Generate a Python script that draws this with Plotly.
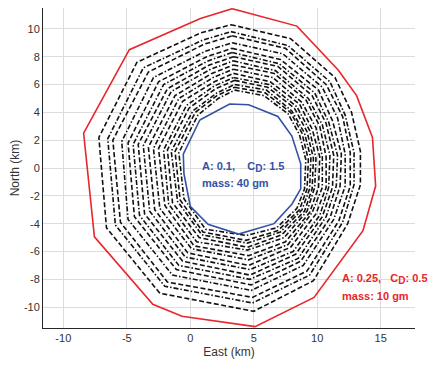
import plotly.graph_objects as go

# ---- data (km) ----
x_ticks = [-10, -5, 0, 5, 10, 15]
y_ticks = [-10, -8, -6, -4, -2, 0, 2, 4, 6, 8, 10]

# outer footprint (A: 0.25, CD: 0.5, mass 10 gm)
red_east = [3.3, 8.4, 11.65, 13.1, 14.35, 14.6, 13.6, 9.75, 5.1, -0.65, -2.95, -7.55, -8.4, -4.8, 0.8]
red_north = [11.45, 10.2, 7.05, 5.2, 2.2, -1.3, -4.5, -9.3, -11.4, -10.65, -9.8, -4.95, 2.5, 8.5, 10.75]

# inner footprint (A: 0.1, CD: 1.5, mass 40 gm)
blue_east = [0.75, 3.1, 4.6, 6.9, 8.0, 8.7, 8.7, 8.0, 6.6, 3.8, 1.4, 0.0, -0.5, -0.55]
blue_north = [3.45, 4.6, 4.55, 3.7, 2.3, 0.3, -1.5, -2.6, -4.0, -4.75, -4.05, -2.75, -0.4, 1.0]

# intermediate footprints
black_east = [
    [3.2, 7.9, 11.4, 12.7, 13.4, 13.4, 12.4, 9.7, 5.0, -2.4, -6.6, -7.2, -4.2, 0.8],
    [3.2, 7.7, 11.0, 12.2, 12.9, 12.9, 12.0, 9.4, 4.9, -2.0, -5.9, -6.5, -3.7, 1.0],
    [3.3, 7.5, 10.7, 12.0, 12.6, 12.6, 11.7, 9.2, 4.9, -1.8, -5.5, -6.1, -3.3, 1.1],
    [3.3, 7.3, 10.4, 11.6, 12.2, 12.2, 11.3, 8.9, 4.8, -1.4, -4.9, -5.4, -2.9, 1.2],
    [3.3, 7.1, 10.1, 11.2, 11.9, 11.8, 11.0, 8.7, 4.8, -1.1, -4.4, -4.9, -2.5, 1.3],
    [3.3, 7.0, 9.8, 10.9, 11.6, 11.5, 10.7, 8.5, 4.7, -0.9, -4.0, -4.5, -2.1, 1.4],
    [3.4, 6.9, 9.6, 10.7, 11.3, 11.2, 10.4, 8.3, 4.7, -0.6, -3.6, -4.1, -1.8, 1.5],
    [3.4, 6.7, 9.3, 10.4, 11.0, 10.9, 10.2, 8.1, 4.7, -0.4, -3.2, -3.7, -1.5, 1.6],
    [3.4, 6.6, 9.1, 10.2, 10.7, 10.7, 9.9, 7.9, 4.6, -0.2, -2.8, -3.3, -1.2, 1.7],
    [3.4, 6.5, 8.8, 9.9, 10.4, 10.4, 9.6, 7.7, 4.6, 0.1, -2.4, -2.9, -0.9, 1.8],
    [3.4, 6.3, 8.6, 9.6, 10.2, 10.1, 9.4, 7.5, 4.6, 0.3, -2.0, -2.5, -0.6, 1.9],
    [3.4, 6.2, 8.4, 9.4, 9.9, 9.8, 9.2, 7.4, 4.5, 0.5, -1.7, -2.1, -0.3, 1.9],
    [3.5, 6.1, 8.2, 9.2, 9.7, 9.6, 9.0, 7.2, 4.5, 0.7, -1.4, -1.8, -0.1, 2.0],
    [3.5, 6.0, 8.0, 9.0, 9.5, 9.4, 8.8, 7.1, 4.5, 0.9, -1.0, -1.5, 0.2, 2.1],
    [3.5, 5.9, 7.9, 8.8, 9.3, 9.2, 8.6, 6.9, 4.4, 1.0, -0.8, -1.2, 0.4, 2.1],
    [3.5, 5.8, 7.7, 8.6, 9.1, 9.0, 8.4, 6.8, 4.4, 1.2, -0.5, -0.9, 0.6, 2.2],
]
black_north = [
    [10.3, 9.3, 6.5, 4.0, 1.2, -1.2, -4.0, -8.1, -10.3, -9.0, -4.3, 2.2, 7.6, 9.7],
    [9.8, 8.8, 6.2, 3.8, 1.1, -1.2, -3.9, -7.7, -9.7, -8.5, -4.1, 2.1, 7.2, 9.2],
    [9.5, 8.6, 6.0, 3.7, 1.1, -1.3, -3.8, -7.4, -9.3, -8.2, -3.9, 2.0, 6.9, 8.9],
    [9.0, 8.2, 5.8, 3.6, 1.0, -1.3, -3.7, -7.0, -8.8, -7.7, -3.7, 1.9, 6.5, 8.4],
    [8.6, 7.8, 5.6, 3.4, 1.0, -1.3, -3.6, -6.7, -8.4, -7.3, -3.5, 1.8, 6.2, 8.0],
    [8.3, 7.5, 5.4, 3.3, 0.9, -1.3, -3.5, -6.5, -8.0, -7.0, -3.4, 1.7, 6.0, 7.7],
    [8.0, 7.3, 5.2, 3.2, 0.9, -1.4, -3.5, -6.2, -7.7, -6.7, -3.3, 1.7, 5.7, 7.4],
    [7.7, 7.0, 5.0, 3.1, 0.9, -1.4, -3.4, -6.0, -7.3, -6.4, -3.1, 1.6, 5.5, 7.1],
    [7.4, 6.8, 4.9, 3.0, 0.8, -1.4, -3.3, -5.7, -7.0, -6.1, -3.0, 1.5, 5.2, 6.8],
    [7.1, 6.5, 4.7, 2.9, 0.8, -1.4, -3.2, -5.5, -6.6, -5.8, -2.9, 1.4, 5.0, 6.5],
    [6.8, 6.2, 4.6, 2.8, 0.8, -1.4, -3.2, -5.3, -6.3, -5.6, -2.7, 1.4, 4.8, 6.2],
    [6.5, 6.0, 4.4, 2.7, 0.7, -1.4, -3.1, -5.0, -5.9, -5.3, -2.6, 1.3, 4.5, 5.9],
    [6.3, 5.8, 4.3, 2.6, 0.7, -1.5, -3.1, -4.8, -5.7, -5.0, -2.5, 1.3, 4.3, 5.7],
    [6.0, 5.6, 4.1, 2.5, 0.7, -1.5, -3.0, -4.6, -5.4, -4.8, -2.4, 1.2, 4.1, 5.4],
    [5.8, 5.4, 4.0, 2.5, 0.6, -1.5, -3.0, -4.5, -5.2, -4.6, -2.3, 1.2, 4.0, 5.2],
    [5.6, 5.2, 3.9, 2.4, 0.6, -1.5, -2.9, -4.3, -4.85, -4.4, -2.2, 1.1, 3.8, 5.0],
]

RED = "#e8262b"
BLUE = "#3352a6"
DASH = "5px,2.5px"
DASHDOT = "5px,2px,1.5px,2px"
FONT = "Liberation Sans, Arial, sans-serif"

fig = go.Figure()

for i, (ex, ny) in enumerate(zip(black_east, black_north)):
    fig.add_trace(go.Scatter(
        x=ex + ex[:1], y=ny + ny[:1], mode="lines",
        line=dict(color="#111111", width=1.6, dash=DASH if i % 2 == 0 else DASHDOT),
        showlegend=False, hoverinfo="skip"))

fig.add_trace(go.Scatter(x=red_east + red_east[:1], y=red_north + red_north[:1], mode="lines",
                         line=dict(color=RED, width=1.6), showlegend=False))
fig.add_trace(go.Scatter(x=blue_east + blue_east[:1], y=blue_north + blue_north[:1], mode="lines",
                         line=dict(color=BLUE, width=1.6), showlegend=False))

nb = "\u00a0"
sub_d = '<sub><span style="font-size:10px">D</span></sub>'
ann = [
    (0.8, 0.1, f"<b>A: 0.1,{nb*4}C{sub_d}: 1.5</b>", BLUE),
    (0.8, -1.1, "<b>mass: 40 gm</b>", BLUE),
    (11.8, -8.0, f"<b>A: 0.25,{nb*3}C{sub_d}: 0.5</b>", RED),
    (11.8, -9.2, "<b>mass: 10 gm</b>", RED),
]
for ax_, ay_, t, c in ann:
    fig.add_annotation(x=ax_, y=ay_, text=t, showarrow=False, xanchor="left", yanchor="middle",
                       font=dict(color=c, family=FONT, size=11))

axis_common = dict(
    showgrid=True, gridcolor="#dcdcdc", gridwidth=1, zeroline=False,
    showline=True, linecolor="#262626", linewidth=1, mirror=False,
    ticks="",
    tickfont=dict(family=FONT, size=11, color="#333333"),
    automargin=False,
)
fig.update_xaxes(range=[-11.6, 17.7], tickvals=x_ticks, ticktext=[str(v) for v in x_ticks],
                 title=dict(text="East (km)", standoff=4, font=dict(family=FONT, size=12, color="#333333")),
                 **axis_common)
fig.update_yaxes(range=[-11.5, 11.5], tickvals=y_ticks, ticktext=[str(v) for v in y_ticks],
                 title=dict(text="North (km)", standoff=8, font=dict(family=FONT, size=12, color="#333333")),
                 **axis_common)

fig.update_layout(width=429, height=360, margin=dict(l=35, r=22, t=0, b=40),
                  paper_bgcolor="white", plot_bgcolor="white", showlegend=False)

fig.write_html("out.html")
